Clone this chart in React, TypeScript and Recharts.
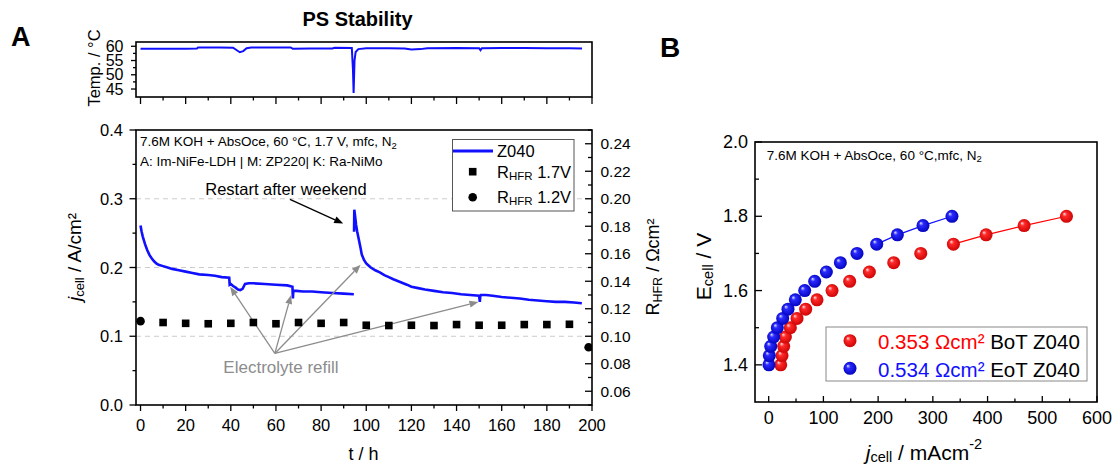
import React from "react";
import {
  ComposedChart,
  LineChart,
  Line,
  Scatter,
  XAxis,
  YAxis,
  ReferenceLine,
} from "recharts";

const W = 1116;
const H = 467;
const FONT = '"Liberation Sans", Arial, sans-serif';
const BLUE = "#1010ff";
const RED = "#ff0000";

// ---- panel A, top: cell temperature ----
const tempTime = [0, 10, 20, 25, 25.5, 35, 41, 42.5, 44, 45.5, 47, 49, 60, 66.5, 67.5, 75, 85, 86, 93.6, 94.1, 94.4, 94.8, 95.3, 96.5, 100, 110, 117, 120, 124, 127, 140, 150, 150.6, 151.2, 160, 170, 180, 190, 195.6];
const tempValue = [59.1, 59.1, 59.1, 59.2, 59.6, 59.6, 59.5, 58.7, 57.9, 58.3, 59.3, 59.6, 59.6, 59.6, 59.1, 59.2, 59.2, 59.5, 59.4, 52.0, 43.6, 55.0, 58.0, 59.0, 59.3, 59.3, 59.2, 58.9, 59.0, 59.3, 59.4, 59.3, 58.6, 59.3, 59.4, 59.4, 59.3, 59.3, 59.2];

// ---- panel A, main: current density (before / after weekend restart) ----
const run1Time = [0, 0.5, 1, 2, 3, 4, 5, 6, 7, 8, 10, 12, 14, 17, 20, 23, 26, 30, 33, 36, 39.3, 39.5, 40, 41, 42, 43.2, 44.2, 45.2, 46.3, 48, 50, 55, 60, 65, 67.3, 67.5, 67.7, 69, 72, 76, 80, 85, 90, 94.5];
const run1Current = [0.261, 0.252, 0.245, 0.234, 0.225, 0.218, 0.213, 0.209, 0.206, 0.204, 0.202, 0.2, 0.198, 0.196, 0.194, 0.192, 0.19, 0.189, 0.188, 0.186, 0.185, 0.175, 0.176, 0.173, 0.171, 0.168, 0.167, 0.169, 0.176, 0.177, 0.177, 0.176, 0.175, 0.174, 0.172, 0.155, 0.166, 0.166, 0.165, 0.165, 0.164, 0.163, 0.162, 0.161];
const run2Time = [94.6, 94.7, 95.0, 95.5, 96.0, 96.5, 97.0, 97.5, 98.0, 99, 100, 101, 102, 104, 106, 108, 110, 112, 115, 118, 120, 123, 126, 130, 134, 138, 142, 146, 150, 150.3, 150.5, 150.8, 153, 156, 160, 164, 168, 172, 176, 180, 184, 188, 192, 195.5];
const run2Current = [0.252, 0.284, 0.276, 0.262, 0.252, 0.244, 0.236, 0.228, 0.219, 0.211, 0.206, 0.203, 0.2, 0.196, 0.193, 0.189, 0.186, 0.183, 0.179, 0.175, 0.172, 0.17, 0.168, 0.166, 0.164, 0.163, 0.161, 0.16, 0.159, 0.15, 0.158, 0.16, 0.16, 0.159, 0.157, 0.156, 0.155, 0.153, 0.152, 0.151, 0.15, 0.15, 0.149, 0.148];

// HFR resistance (right axis)
const hfr17Time = [10, 20, 30, 40, 50, 60, 70, 80, 90, 100, 110, 120, 130, 140, 150, 160, 170, 180, 190];
const hfr17Value = [0.11, 0.1094, 0.1091, 0.1094, 0.11, 0.1091, 0.11, 0.1094, 0.11, 0.108, 0.1078, 0.108, 0.1078, 0.1085, 0.108, 0.108, 0.1085, 0.1085, 0.1087];
const hfr12Time = [0, 198.5];
const hfr12Value = [0.111, 0.092];

// ---- panel B: polarisation curves ----
const cellVoltage = [1.4, 1.425, 1.45, 1.475, 1.5, 1.525, 1.55, 1.575, 1.6, 1.625, 1.65, 1.675, 1.7, 1.725, 1.75, 1.775, 1.8];
const botCurrent = [22, 24.4, 27.4, 30.5, 39.6, 51.8, 67.6, 88.3, 115.8, 148, 184, 228.5, 277.9, 337.6, 397.3, 466.8, 544.2];
const eotCurrent = [0.5, 1.2, 3.7, 9.1, 15.8, 25.6, 35.3, 48.7, 65.8, 84.1, 105.4, 131, 161.4, 197.4, 235.2, 282, 335];
const fitFrom = 13; // last points joined by the fit line

// ticks
const timeTicks = [0, 10, 20, 30, 40, 50, 60, 70, 80, 90, 100, 110, 120, 130, 140, 150, 160, 170, 180, 190, 200];
const timeMajors = [0, 20, 40, 60, 80, 100, 120, 140, 160, 180, 200];
const tempTicks = [45, 47.5, 50, 52.5, 55, 57.5, 60];
const tempMajors = [45, 50, 55, 60];
const jTicks = [0, 0.05, 0.1, 0.15, 0.2, 0.25, 0.3, 0.35, 0.4];
const jMajors = [0, 0.1, 0.2, 0.3, 0.4];
const rTicks = [0.05, 0.06, 0.07, 0.08, 0.09, 0.1, 0.11, 0.12, 0.13, 0.14, 0.15, 0.16, 0.17, 0.18, 0.19, 0.2, 0.21, 0.22, 0.23, 0.24, 0.25];
const rMajors = [0.06, 0.08, 0.1, 0.12, 0.14, 0.16, 0.18, 0.2, 0.22, 0.24];
const gridLevels = [0.1, 0.2, 0.3];
const pcTicks = [0, 50, 100, 150, 200, 250, 300, 350, 400, 450, 500, 550, 600];
const pcMajors = [0, 100, 200, 300, 400, 500, 600];
const eTicks = [1.4, 1.5, 1.6, 1.7, 1.8, 1.9, 2.0];
const eMajors = [1.4, 1.6, 1.8, 2.0];

const tempData = tempTime.map((t, i) => ({ t, T: tempValue[i] }));
const run1Data = run1Time.map((t, i) => ({ t, j: run1Current[i] }));
const run2Data = run2Time.map((t, i) => ({ t, j: run2Current[i] }));
const hfr17Data = hfr17Time.map((t, i) => ({ t, r: hfr17Value[i] }));
const hfr12Data = hfr12Time.map((t, i) => ({ t, r: hfr12Value[i] }));
const botData = cellVoltage.map((E, i) => ({ pc: botCurrent[i], E }));
const eotData = cellVoltage.map((E, i) => ({ pc: eotCurrent[i], E }));

// plot frames in page pixels (margins below are derived from these)
const tempBox = { l: 136, r: 592, t: 42, b: 97 };
const mainBox = { l: 136, r: 592, t: 130, b: 405 };
const pcBox = { l: 755, r: 1097, t: 142, b: 402 };

type TickSpec = {
  side: "left" | "right" | "bottom";
  majors: number[];
  digits: number; // -1: no labels
  inward?: boolean;
  majorLen: number;
  minorLen: number;
  gap: number;
  fontSize: number;
};

const isIn = (v: number, list: number[]) => list.some((m) => Math.abs(m - v) < 1e-6);

function axisTick(spec: TickSpec) {
  return (props: any) => {
    const x = Number(props.x);
    const y = Number(props.y);
    const v = Number(props.payload.value);
    const major = isIn(v, spec.majors);
    const len = major ? spec.majorLen : spec.minorLen;
    const d = spec.inward ? -1 : 1;
    const label = major && spec.digits >= 0 ? v.toFixed(spec.digits) : "";
    const txt = { fontFamily: FONT, fontSize: spec.fontSize, fill: "#000" };
    let mark = "";
    let tx = x;
    let ty = y;
    let anchor: "start" | "middle" | "end" = "middle";
    if (spec.side === "left") {
      mark = `M${x},${y}H${x - d * len}`;
      tx = x - spec.gap;
      anchor = "end";
    } else if (spec.side === "right") {
      mark = `M${x},${y}H${x + d * len}`;
      tx = x + spec.gap;
      anchor = "start";
    } else {
      mark = `M${x},${y}V${y + d * len}`;
      ty = y + spec.gap;
    }
    return (
      <g>
        <path d={mark} stroke="#000" strokeWidth={1.3} fill="none" />
        {label && (
          <text x={tx} y={ty} textAnchor={anchor} dominantBaseline="central" {...txt}>
            {label}
          </text>
        )}
      </g>
    );
  };
}

const arrowShape = (color: string) => (p: any) => {
  const x1 = Number(p.x1);
  const y1 = Number(p.y1);
  const x2 = Number(p.x2);
  const y2 = Number(p.y2);
  const a = Math.atan2(y2 - y1, x2 - x1);
  const L = 9;
  const hw = 3.5;
  const bx = x2 - L * Math.cos(a);
  const by = y2 - L * Math.sin(a);
  const pts = `${x2},${y2} ${bx + hw * Math.sin(a)},${by - hw * Math.cos(a)} ${bx - hw * Math.sin(a)},${by + hw * Math.cos(a)}`;
  return (
    <g>
      <line x1={x1} y1={y1} x2={bx} y2={by} stroke={color} strokeWidth={1.3} />
      <polygon points={pts} fill={color} />
    </g>
  );
};

const refillOrigin = { x: 59.5, y: 0.075 };
const refillTargets = [
  { x: 39.7, y: 0.172 },
  { x: 66.7, y: 0.16 },
  { x: 97.5, y: 0.204 },
  { x: 149.7, y: 0.15 },
];

const square = (p: any) => <rect x={p.cx - 3.8} y={p.cy - 3.8} width={7.6} height={7.6} fill="#000" />;
const dot = (p: any) => <circle cx={p.cx} cy={p.cy} r={4.3} fill="#000" />;
const redBall = (p: any) => <circle cx={p.cx} cy={p.cy} r={6.5} fill="url(#ballRed)" />;
const blueBall = (p: any) => <circle cx={p.cx} cy={p.cy} r={6.5} fill="url(#ballBlue)" />;

const layer: React.CSSProperties = { position: "absolute", left: 0, top: 0 };

// axes with 1px thickness so they are laid out; frames are drawn on top
const margins = (b: { l: number; r: number; t: number; b: number }) => ({
  top: b.t,
  right: W - b.r - 1,
  bottom: H - b.b - 1,
  left: 0,
});

const Frame = ({ b }: { b: { l: number; r: number; t: number; b: number } }) => (
  <rect x={b.l} y={b.t} width={b.r - b.l} height={b.b - b.t} fill="none" stroke="#000" strokeWidth={1.6} />
);

const App: React.FC = () => {
  return (
    <div style={{ position: "absolute", left: 0, top: 0, width: W, height: H, background: "#fff", fontFamily: FONT }}>
      <svg width={0} height={0} style={{ position: "absolute" }}>
        <defs>
          <radialGradient id="ballRed" cx="0.5" cy="0.5" r="0.55" fx="0.32" fy="0.3">
            <stop offset="0%" stopColor="#ffe6e6" />
            <stop offset="30%" stopColor="#ff2a2a" />
            <stop offset="100%" stopColor="#c80000" />
          </radialGradient>
          <radialGradient id="ballBlue" cx="0.5" cy="0.5" r="0.55" fx="0.32" fy="0.3">
            <stop offset="0%" stopColor="#e6e6ff" />
            <stop offset="30%" stopColor="#2a2aff" />
            <stop offset="100%" stopColor="#0000b8" />
          </radialGradient>
        </defs>
      </svg>

      {/* A, temperature strip */}
      <div style={layer}>
        <LineChart width={W} height={H} margin={margins(tempBox)}>
          <XAxis
            xAxisId="b"
            dataKey="t"
            type="number"
            domain={[-2, 200]}
            allowDataOverflow
            ticks={timeTicks}
            interval={0}
            height={1}
            tickSize={0}
            tickMargin={0}
            tickLine={false}
            axisLine={false}
            tick={axisTick({ side: "bottom", majors: timeMajors, digits: -1, majorLen: 7, minorLen: 3.5, gap: 0, fontSize: 16 })}
          />
          <YAxis
            yAxisId="l"
            dataKey="T"
            type="number"
            domain={[42.2, 61.5]}
            allowDataOverflow
            width={tempBox.l}
            ticks={tempTicks}
            interval={0}
            tickSize={0}
            tickMargin={0}
            tickLine={false}
            axisLine={false}
            tick={axisTick({ side: "left", majors: tempMajors, digits: 0, majorLen: 5, minorLen: 3, gap: 12.5, fontSize: 16 })}
          />
          <YAxis yAxisId="r" orientation="right" type="number" domain={[42.2, 61.5]} width={1} tick={false} tickLine={false} axisLine={false} />
          <Line xAxisId="b" yAxisId="l" data={tempData} dataKey="T" stroke={BLUE} strokeWidth={2} dot={false} isAnimationActive={false} />
        </LineChart>
      </div>

      {/* A, current density and HFR */}
      <div style={layer}>
        <ComposedChart width={W} height={H} margin={margins(mainBox)}>
          <XAxis
            xAxisId="b"
            dataKey="t"
            type="number"
            domain={[-2, 200]}
            allowDataOverflow
            ticks={timeTicks}
            interval={0}
            height={1}
            tickSize={0}
            tickMargin={0}
            tickLine={false}
            axisLine={false}
            tick={axisTick({ side: "bottom", majors: timeMajors, digits: 0, majorLen: 6, minorLen: 3.5, gap: 20, fontSize: 16.5 })}
          />
          <YAxis
            yAxisId="left"
            dataKey="j"
            type="number"
            domain={[0, 0.4]}
            allowDataOverflow
            width={mainBox.l}
            ticks={jTicks}
            interval={0}
            tickSize={0}
            tickMargin={0}
            tickLine={false}
            axisLine={false}
            tick={axisTick({ side: "left", majors: jMajors, digits: 1, majorLen: 6.5, minorLen: 3.5, gap: 13, fontSize: 16.5 })}
          />
          <YAxis
            yAxisId="right"
            orientation="right"
            dataKey="r"
            type="number"
            domain={[0.05, 0.25]}
            allowDataOverflow
            width={1}
            ticks={rTicks}
            interval={0}
            tickSize={0}
            tickMargin={0}
            tickLine={false}
            axisLine={false}
            tick={axisTick({ side: "right", majors: rMajors, digits: 2, inward: true, majorLen: 7, minorLen: 4, gap: 8.5, fontSize: 15.5 })}
          />
          {gridLevels.map((g) => (
            <ReferenceLine key={g} xAxisId="b" yAxisId="left" y={g} stroke="#cccccc" strokeWidth={1} strokeDasharray="5 4" />
          ))}
          <Line xAxisId="b" yAxisId="left" data={run1Data} dataKey="j" stroke={BLUE} strokeWidth={2.6} dot={false} isAnimationActive={false} />
          <Line xAxisId="b" yAxisId="left" data={run2Data} dataKey="j" stroke={BLUE} strokeWidth={2.6} dot={false} isAnimationActive={false} />
          <Scatter xAxisId="b" yAxisId="right" data={hfr17Data} dataKey="r" shape={square} isAnimationActive={false} />
          <Scatter xAxisId="b" yAxisId="right" data={hfr12Data} dataKey="r" shape={dot} isAnimationActive={false} />
          <ReferenceLine
            xAxisId="b"
            yAxisId="left"
            segment={[{ x: 66.2, y: 0.299 }, { x: 89.8, y: 0.264 }]}
            shape={arrowShape("#000")}
          />
          {refillTargets.map((p, i) => (
            <ReferenceLine key={i} xAxisId="b" yAxisId="left" segment={[refillOrigin, p]} shape={arrowShape("#8c8c8c")} />
          ))}
        </ComposedChart>
      </div>

      {/* B, polarisation curves */}
      <div style={layer}>
        <ComposedChart width={W} height={H} margin={margins(pcBox)}>
          <XAxis
            xAxisId="b"
            dataKey="pc"
            type="number"
            domain={[-25, 600]}
            allowDataOverflow
            ticks={pcTicks}
            interval={0}
            height={1}
            tickSize={0}
            tickMargin={0}
            tickLine={false}
            axisLine={false}
            tick={axisTick({ side: "bottom", majors: pcMajors, digits: 0, inward: true, majorLen: 6, minorLen: 3.5, gap: 15.5, fontSize: 18 })}
          />
          <YAxis
            yAxisId="l"
            dataKey="E"
            type="number"
            domain={[1.3, 2.0]}
            allowDataOverflow
            width={pcBox.l}
            ticks={eTicks}
            interval={0}
            tickSize={0}
            tickMargin={0}
            tickLine={false}
            axisLine={false}
            tick={axisTick({ side: "left", majors: eMajors, digits: 1, inward: true, majorLen: 7, minorLen: 4, gap: 7, fontSize: 18 })}
          />
          <YAxis yAxisId="r" orientation="right" type="number" domain={[1.3, 2.0]} width={1} tick={false} tickLine={false} axisLine={false} />
          <Line xAxisId="b" yAxisId="l" data={botData.slice(fitFrom)} dataKey="E" stroke={RED} strokeWidth={1.2} dot={false} isAnimationActive={false} />
          <Line xAxisId="b" yAxisId="l" data={eotData.slice(fitFrom)} dataKey="E" stroke={BLUE} strokeWidth={1.2} dot={false} isAnimationActive={false} />
          <Scatter xAxisId="b" yAxisId="l" data={botData} dataKey="E" shape={redBall} isAnimationActive={false} />
          <Scatter xAxisId="b" yAxisId="l" data={eotData} dataKey="E" shape={blueBall} isAnimationActive={false} />
        </ComposedChart>
      </div>

      {/* frames, titles, labels, legends */}
      <svg width={W} height={H} style={{ ...layer, pointerEvents: "none" }} fontFamily={FONT}>
        <Frame b={tempBox} />
        <Frame b={mainBox} />
        <Frame b={pcBox} />

        <text x={11} y={46} fontSize={27} fontWeight="bold">A</text>
        <text x={660} y={57} fontSize={28} fontWeight="bold">B</text>
        <text x={357.5} y={19} fontSize={20} fontWeight="bold" textAnchor="middle" dominantBaseline="central">PS Stability</text>

        <text transform="translate(93.5,68) rotate(-90)" fontSize={16.5} textAnchor="middle" dominantBaseline="central">Temp. / °C</text>
        <text transform="translate(73.5,257) rotate(-90)" fontSize={19} textAnchor="middle" dominantBaseline="central">
          <tspan fontStyle="italic">j</tspan>
          <tspan fontSize={13} dy={5}>cell</tspan>
          <tspan dy={-5}> / A/cm²</tspan>
        </text>
        <text transform="translate(652.5,267) rotate(-90)" fontSize={18} textAnchor="middle" dominantBaseline="central">
          R<tspan fontSize={12.5} dy={5}>HFR</tspan>
          <tspan dy={-5}> / Ωcm²</tspan>
        </text>
        <text x={363.5} y={454} fontSize={18} textAnchor="middle" dominantBaseline="central">t / h</text>

        <text x={140} y={141.7} fontSize={13.5} dominantBaseline="central">
          7.6M KOH + AbsOce, 60 °C, 1.7 V, mfc, N<tspan fontSize={9.5} dy={3}>2</tspan>
        </text>
        <text x={140} y={161.7} fontSize={13.5} dominantBaseline="central">A: Im-NiFe-LDH | M: ZP220| K: Ra-NiMo</text>
        <text x={286} y={189} fontSize={16.5} textAnchor="middle" dominantBaseline="central">Restart after weekend</text>
        <text x={281} y={367} fontSize={17} fill="#8c8c8c" textAnchor="middle" dominantBaseline="central">Electrolyte refill</text>

        <rect x={452.5} y={139.5} width={121.5} height={71.5} fill="#fff" stroke="#555" strokeWidth={1} />
        <line x1={453} y1={151} x2={493} y2={151} stroke={BLUE} strokeWidth={3} />
        <text x={497} y={151} fontSize={16.5} dominantBaseline="central">Z040</text>
        <rect x={468.9} y={167.9} width={7.6} height={7.6} fill="#000" />
        <text x={497} y={172} fontSize={16.5} dominantBaseline="central">
          R<tspan fontSize={11.5} dy={4}>HFR</tspan>
          <tspan dy={-4}> 1.7V</tspan>
        </text>
        <circle cx={472.7} cy={197.3} r={4.3} fill="#000" />
        <text x={497} y={197} fontSize={16.5} dominantBaseline="central">
          R<tspan fontSize={11.5} dy={4}>HFR</tspan>
          <tspan dy={-4}> 1.2V</tspan>
        </text>

        <text x={766.7} y={155} fontSize={13.5} dominantBaseline="central">
          7.6M KOH + AbsOce, 60 °C,mfc, N<tspan fontSize={9.5} dy={3}>2</tspan>
        </text>
        <text transform="translate(703,266.5) rotate(-90)" fontSize={21} textAnchor="middle" dominantBaseline="central">
          E<tspan fontSize={14.5} dy={5}>cell</tspan>
          <tspan dy={-5}> / V</tspan>
        </text>
        <text x={924} y={451.7} fontSize={21} textAnchor="middle" dominantBaseline="central">
          <tspan fontStyle="italic">j</tspan>
          <tspan fontSize={14.5} dy={5}>cell</tspan>
          <tspan dy={-5}> / mAcm</tspan>
          <tspan fontSize={14.5} dy={-8}>-2</tspan>
        </text>

        <rect x={826} y={327} width={261} height={54} fill="#fff" stroke="#888" strokeWidth={1} />
        <circle cx={850} cy={340.7} r={6.5} fill="url(#ballRed)" />
        <text x={878} y={341} fontSize={20.5} dominantBaseline="central">
          <tspan fill={RED}>0.353 Ωcm²</tspan>
          <tspan> BoT Z040</tspan>
        </text>
        <circle cx={850} cy={368.3} r={6.5} fill="url(#ballBlue)" />
        <text x={878} y={368.5} fontSize={20.5} dominantBaseline="central">
          <tspan fill={BLUE}>0.534 Ωcm²</tspan>
          <tspan> EoT Z040</tspan>
        </text>
      </svg>
    </div>
  );
};

export default App;
